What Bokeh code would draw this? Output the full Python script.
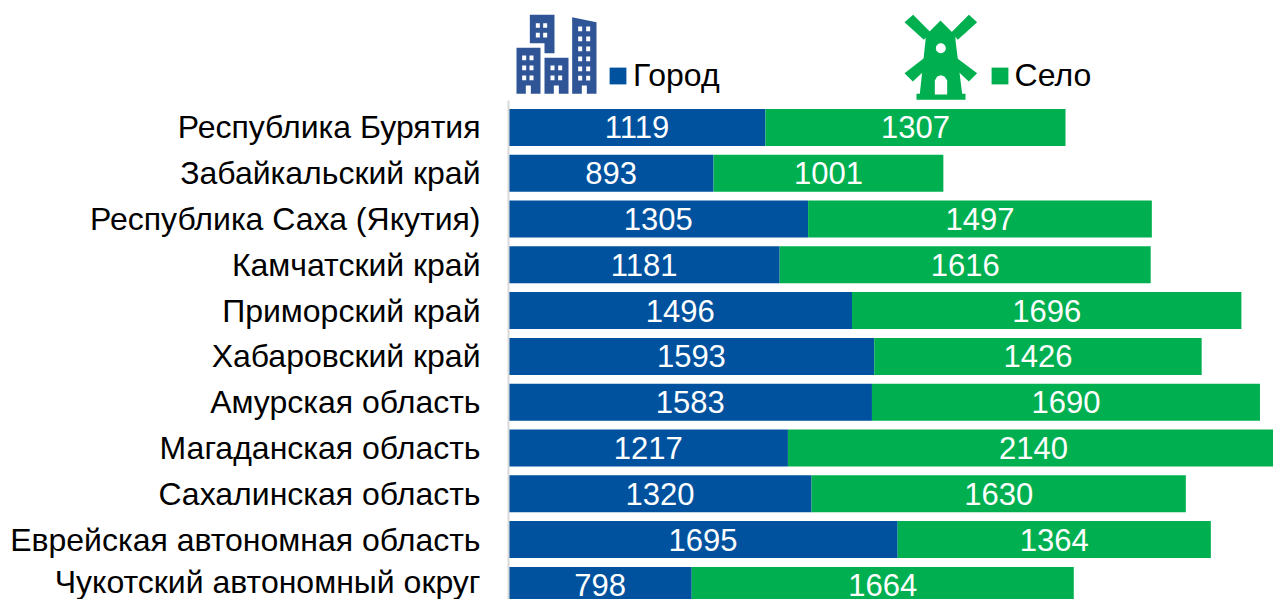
from bokeh.plotting import figure
from bokeh.models import Range1d, FixedTicker, Legend, LegendItem, ColumnDataSource
from bokeh.core.properties import value
from bokeh.embed import file_html
from bokeh.resources import INLINE

regions = ["Республика Бурятия", "Забайкальский край", "Республика Саха (Якутия)",
           "Камчатский край", "Приморский край", "Хабаровский край", "Амурская область",
           "Магаданская область", "Сахалинская область", "Еврейская автономная область",
           "Чукотский автономный округ"]
city = [1119, 893, 1305, 1181, 1496, 1593, 1583, 1217, 1320, 1695, 798]
village = [1307, 1001, 1497, 1616, 1696, 1426, 1690, 2140, 1630, 1364, 1664]

BLUE = "#00529f"
GREEN = "#00b050"
ICON_BLUE = "#2f5597"
FONT = "Liberation Sans"
FS = "32px"
FS_VAL = "31px"

W, H = 1273, 599
LEFT = 508
PX_PER_UNIT = 0.2296
ROW = 45.8
TOP_PAD = 104  # header area above first bar row

idx = list(range(len(regions)))
src = ColumnDataSource(dict(
    y=idx, city=city, village=village,
    total=[c + v for c, v in zip(city, village)],
    zero=[0] * len(city),
    cmid=[c / 2 for c in city],
    vmid=[c + v / 2 for c, v in zip(city, village)],
    clab=[str(c) for c in city], vlab=[str(v) for v in village],
))

p = figure(width=W, height=H, output_backend="svg", toolbar_location=None,
           x_range=Range1d(0, (W - LEFT) / PX_PER_UNIT),
           y_range=Range1d(-0.5 + (H - TOP_PAD) / ROW, -0.5 - TOP_PAD / ROW),
           min_border=0, min_border_left=LEFT, outline_line_color=None)
p.grid.visible = False
p.xaxis.visible = False
ax = p.yaxis[0]
ax.ticker = FixedTicker(ticks=idx)
ax.major_label_overrides = {i: r for i, r in enumerate(regions)}
ax.major_label_text_font = FONT
ax.major_label_text_font_size = FS
ax.major_label_text_color = "#000000"
ax.major_label_standoff = 28
ax.major_tick_out = 0
ax.major_tick_in = 0
ax.minor_tick_out = 0
ax.minor_tick_in = 0
ax.major_tick_line_color = None
ax.minor_tick_line_color = None
ax.axis_line_color = "#d9d9d9"
ax.axis_line_width = 2
ax.bounds = (-0.59, -0.5 + (H - TOP_PAD) / ROW)

r1 = p.hbar(y="y", left="zero", right="city", height=0.808, source=src,
            fill_color=BLUE, line_color=None)
r2 = p.hbar(y="y", left="city", right="total", height=0.808, source=src,
            fill_color=GREEN, line_color=None)
for xcol, tcol in (("cmid", "clab"), ("vmid", "vlab")):
    p.text(x=xcol, y="y", text=tcol, source=src, text_color="white",
           text_align="center", text_baseline="middle",
           text_font=value(FONT), text_font_size=FS_VAL)

legend = Legend(items=[LegendItem(label="Город", renderers=[r1]),
                       LegendItem(label="Село", renderers=[r2])],
                orientation="horizontal", location=(99, 505), padding=0, margin=0,
                spacing=269, glyph_width=21, glyph_height=21, label_standoff=5,
                label_text_font=FONT, label_text_font_size=FS, label_text_color="#000000",
                background_fill_alpha=0, border_line_color=None)
p.add_layout(legend, "center")

# Icons, drawn in a page-pixel coordinate system
p.extra_x_ranges["px"] = Range1d(LEFT, W)
p.extra_y_ranges["px"] = Range1d(H, 0)
PX = dict(x_range_name="px", y_range_name="px")


def bx(v):
    return 490 + v / 3


def by(v):
    return v / 3


def mx(v):
    return 880 + v / 3


def poly(f, pts, fy=by):
    return [f(a) for a, _ in pts], [fy(b) for _, b in pts]


def door(x0, x1):
    return [(x0, 280), (x0, 255), (x1, 255), (x1, 280)]


buildings = [
    [(118, 43), (192, 43), (192, 158), (162, 158), (162, 128), (118, 128)],
    [(78, 142), (150, 142), (150, 280)] + door(121, 106) + [(78, 280)],
    [(162, 172), (234, 172), (234, 280)] + door(205, 190) + [(162, 280)],
    [(245, 50), (318, 65), (318, 280)] + door(289, 274) + [(245, 280)],
]
xs, ys = zip(*[poly(bx, b) for b in buildings])
p.patches(list(xs), list(ys), fill_color=ICON_BLUE, line_color=None, **PX)

windows = []
for cols, rows in (((136, 158), (68, 97)),
                   ((95, 117), (165, 195, 225)),
                   ((180, 203), (195, 225)),
                   ((263, 287), (78, 108, 138, 168, 198, 226))):
    for c in cols:
        for r in rows:
            windows.append((c, r))
p.quad(left=[bx(c) for c, r in windows], right=[bx(c + 12) for c, r in windows],
       top=[by(r) for c, r in windows], bottom=[by(r + 14) for c, r in windows],
       fill_color="white", line_color=None, **PX)

mill = [
    [(72, 65), (98, 43), (150, 95), (130, 118)],
    [(290, 65), (265, 43), (213, 95), (232, 118)],
    [(72, 218), (97, 243), (130, 212), (132, 172)],
    [(290, 218), (265, 243), (232, 212), (228, 172)],
    [(180, 60), (225, 105), (225, 120), (245, 280), (255, 280), (255, 298),
     (108, 298), (108, 280), (118, 280), (135, 120), (135, 105)],
]
xs, ys = zip(*[poly(mx, m) for m in mill])
p.patches(list(xs), list(ys), fill_color=GREEN, line_color=None, **PX)
arch = [(163, 282), (163, 240), (170, 228), (181, 224), (192, 228), (200, 240), (200, 282)]
ax_, ay_ = poly(mx, arch)
p.patch(ax_, ay_, fill_color="white", line_color=None, **PX)
p.scatter([mx(181)], [by(143)], size=10, marker="circle", fill_color="white", line_color=None, **PX)

open("out.html", "w").write(file_html(p, INLINE))
